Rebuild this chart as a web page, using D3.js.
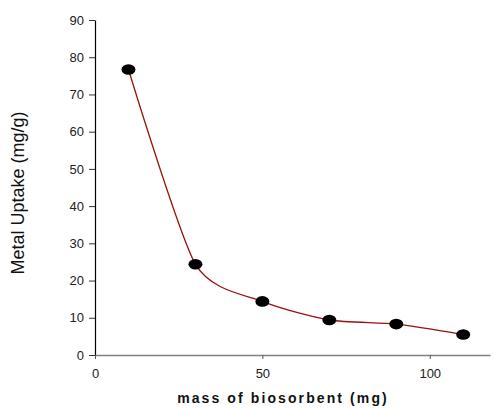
<!DOCTYPE html>
<html>
<head>
<meta charset="utf-8">
<script src="https://cdn.jsdelivr.net/npm/d3@7"></script>
<style>
  html, body { margin: 0; padding: 0; background: #fff; }
  svg { display: block; font-family: "Liberation Sans", Arial, sans-serif; }
</style>
</head>
<body>
<svg id="chart" width="495" height="408"></svg>
<script>
// Biosorbent dose vs metal uptake
const massMg = [10, 30, 50, 70, 90, 110];
const uptake = [76.7, 24.4, 14.4, 9.4, 8.3, 5.5];
const yTicks = [0, 10, 20, 30, 40, 50, 60, 70, 80, 90];
const xTicks = [0, 50, 100];

const svg = d3.select("#chart");
const x = d3.scaleLinear().domain([0, 118]).range([95, 490]);
const y = d3.scaleLinear().domain([0, 90]).range([355, 20]);

// y axis
const yAxis = svg.append("g")
  .attr("transform", `translate(${x(0)},0)`)
  .call(d3.axisLeft(y).tickValues(yTicks).tickSize(6).tickPadding(5).tickSizeOuter(0));
yAxis.select(".domain").attr("stroke", "#000").attr("stroke-width", 1.2);
yAxis.selectAll(".tick line").attr("stroke", "#333");
yAxis.selectAll(".tick text")
  .attr("font-size", 13).attr("fill", "#222")
  .attr("font-family", "Liberation Sans, Arial, sans-serif");

// x axis
const xAxis = svg.append("g")
  .attr("transform", `translate(0,${y(0)})`)
  .call(d3.axisBottom(x).tickValues(xTicks).tickSize(4).tickPadding(10).tickSizeOuter(0));
xAxis.select(".domain").attr("stroke", "#808080").attr("stroke-width", 1.6);
xAxis.selectAll(".tick line").attr("stroke", "#555");
xAxis.selectAll(".tick text")
  .attr("font-size", 13).attr("fill", "#222")
  .attr("font-family", "Liberation Sans, Arial, sans-serif");

// smoothed line through the measurements
const pts = massMg.map((m, i) => [m, uptake[i]]);
const line = d3.line()
  .x(d => x(d[0])).y(d => y(d[1]))
  .curve(d3.curveCardinal.tension(0.3));
svg.append("path")
  .datum(pts)
  .attr("d", line)
  .attr("fill", "none")
  .attr("stroke", "#9b1010")
  .attr("stroke-width", 1.3);

// markers
svg.selectAll("ellipse.pt")
  .data(pts)
  .join("ellipse")
  .attr("class", "pt")
  .attr("cx", d => x(d[0]))
  .attr("cy", d => y(d[1]))
  .attr("rx", 7)
  .attr("ry", 5.3)
  .attr("fill", "#000");

// axis titles
svg.append("text")
  .attr("x", 283).attr("y", 403)
  .attr("text-anchor", "middle")
  .attr("font-size", 14).attr("font-weight", "bold")
  .attr("letter-spacing", 2.1)
  .attr("fill", "#111")
  .text("mass of biosorbent (mg)");

svg.append("text")
  .attr("transform", "translate(24,193) rotate(-90)")
  .attr("text-anchor", "middle")
  .attr("font-size", 18)
  .attr("fill", "#111")
  .text("Metal Uptake (mg/g)");
</script>
</body>
</html>
